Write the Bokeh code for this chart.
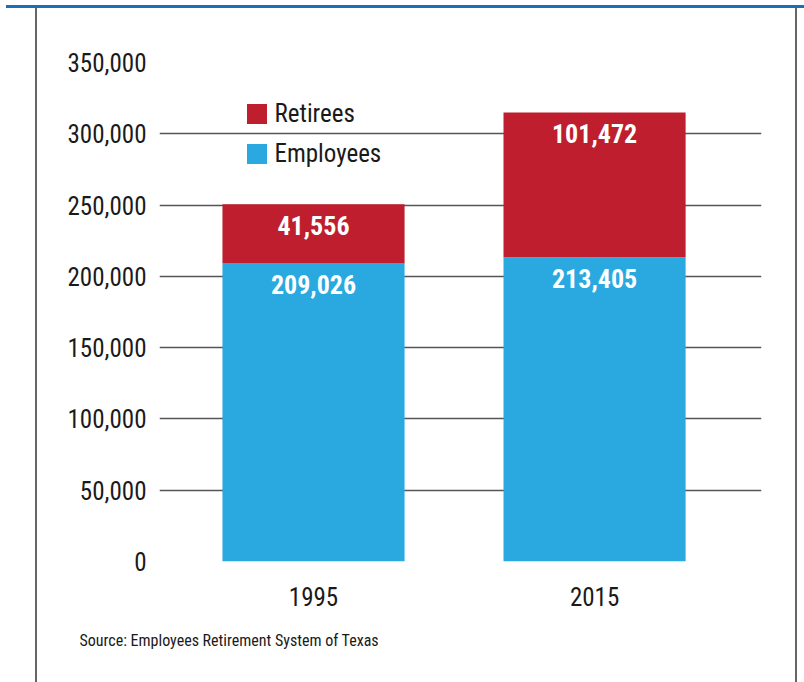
from bokeh.plotting import figure
from bokeh.models import (Range1d, FixedTicker, NumeralTickFormatter, ColumnDataSource,
                          Legend, LegendItem, Title, Spacer)
from bokeh.layouts import column, row
from bokeh.core.properties import value
from bokeh.embed import file_html
from bokeh.resources import INLINE

# ---- data ----
years = ["1995", "2015"]
employees = [209026, 213405]
retirees = [41556, 101472]
y_ticks = [0, 50000, 100000, 150000, 200000, 250000, 300000, 350000]
source_note = "Source: Employees Retirement System of Texas"

FONT = "Roboto Condensed"
RED = "#BE1E2D"
BLUE = "#29A9E0"
INK = "#1a1a1a"

W, H = 758, 674
xs = list(range(len(years)))
totals = [e + r for e, r in zip(employees, retirees)]

src = ColumnDataSource(dict(
    x=xs, emp=employees, ret=retirees, tot=totals,
    emp_lbl=[f"{v:,}" for v in employees],
    ret_lbl=[f"{v:,}" for v in retirees],
))

p = figure(width=W, height=H, output_backend="svg", toolbar_location=None,
           x_range=Range1d(-0.548, 1.594), y_range=Range1d(0, 350000),
           min_border_left=122, min_border_right=34, min_border_top=54, min_border_bottom=121,
           outline_line_color=None, background_fill_color="white", border_fill_color="white")

emp_r = p.vbar(x="x", bottom=0, top="emp", width=0.648, color=BLUE, line_color=None, source=src)
ret_r = p.vbar(x="x", bottom="emp", top="tot", width=0.648, color=RED, line_color=None, source=src)

for ycol, tcol in (("emp", "emp_lbl"), ("tot", "ret_lbl")):
    p.text(x="x", y=ycol, text=tcol, source=src, text_color="white", text_align="center",
           text_baseline="middle", y_offset=21, text_font=value(FONT), text_font_style="bold",
           text_font_size="26px")

# axes
p.yaxis.ticker = FixedTicker(ticks=y_ticks)
p.yaxis.formatter = NumeralTickFormatter(format="0,0")
p.yaxis.axis_line_color = None
p.yaxis.major_tick_line_color = None
p.yaxis.minor_tick_line_color = None
p.yaxis.major_label_standoff = 7
p.yaxis.major_label_text_font = FONT
p.yaxis.major_label_text_font_size = "25px"
p.yaxis.major_label_text_color = INK

p.xaxis.ticker = FixedTicker(ticks=xs)
p.xaxis.major_label_overrides = {i: y for i, y in zip(xs, years)}
p.xaxis.axis_line_color = None
p.xaxis.major_tick_line_color = None
p.xaxis.minor_tick_line_color = None
p.xaxis.major_label_standoff = 19
p.xaxis.major_label_text_font = FONT
p.xaxis.major_label_text_font_size = "25px"
p.xaxis.major_label_text_color = INK

p.xgrid.grid_line_color = None
p.ygrid.grid_line_color = "#555555"
p.ygrid.grid_line_width = 1.5
p.ygrid.ticker = FixedTicker(ticks=y_ticks)

legend = Legend(items=[LegendItem(label="Retirees", renderers=[ret_r]),
                       LegendItem(label="Employees", renderers=[emp_r])],
                border_line_color=None, background_fill_alpha=0,
                label_text_font=FONT, label_text_font_size="25px", label_text_color=INK,
                glyph_width=25, glyph_height=25, label_height=25, spacing=11, padding=0,
                margin=0, label_standoff=6)
legend.location = (84.5, 393)
p.add_layout(legend)

p.add_layout(Title(text=source_note, align="left", offset=-80, standoff=41,
                   text_font=FONT, text_font_size="16px", text_font_style="normal",
                   text_color=INK), "below")

# decorative frame: blue rule on top, thin gray rules at left and right
top_gap = Spacer(width=804, height=5)
rule_pad = Spacer(width=6, height=3)
top_rule = Spacer(width=798, height=3, styles={"background-color": "#1a70b8"})
left_pad = Spacer(width=35, height=H)
left_rule = Spacer(width=2, height=H, styles={"background-color": "#666666"})
right_rule = Spacer(width=2, height=H, styles={"background-color": "#666666"})
layout = column(top_gap, row(rule_pad, top_rule), row(left_pad, left_rule, p, right_rule))

open("out.html", "w").write(file_html(layout, INLINE))
